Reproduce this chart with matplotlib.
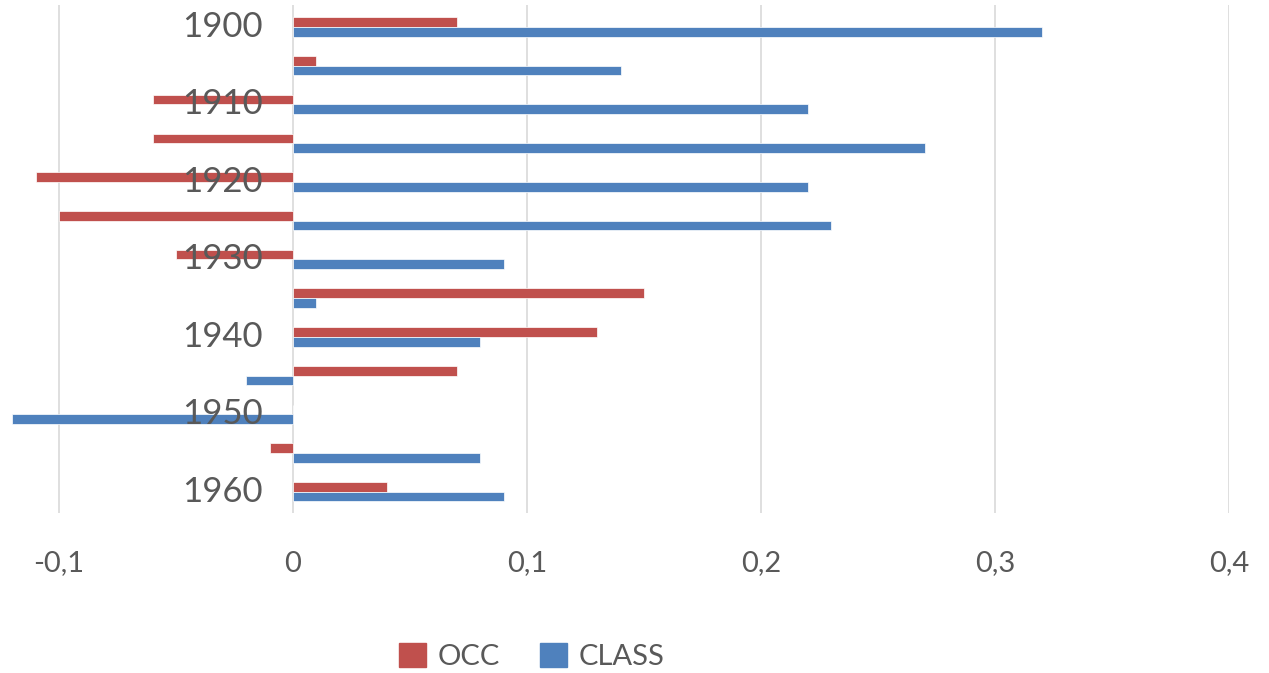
import numpy as np
import matplotlib.pyplot as plt
from matplotlib.ticker import FuncFormatter
from matplotlib.patches import Patch

# Data
years = [1900, 1905, 1910, 1915, 1920, 1925, 1930, 1935, 1940, 1945, 1950, 1955, 1960]
occ   = [0.07, 0.01, -0.06, -0.06, -0.11, -0.10, -0.05, 0.15, 0.13, 0.07, 0.0, -0.01, 0.04]
klass = [0.32, 0.14, 0.22, 0.27, 0.22, 0.23, 0.09, 0.01, 0.08, -0.02, -0.12, 0.08, 0.09]
xticks = [-0.1, 0.0, 0.1, 0.2, 0.3, 0.4]

OCC_COLOR   = "#C0504D"
CLASS_COLOR = "#4F81BD"
TEXT_COLOR  = "#595959"
GRID_COLOR  = "#D9D9D9"

plt.rcParams["font.family"] = ["Lato", "DejaVu Sans"]

fig = plt.figure(figsize=(12.69, 6.73), dpi=100)
ax = fig.add_axes([0.0059, 0.2377, 0.9626, 0.7549])

y = np.arange(len(years))
h = 0.25
ax.barh(y - h / 2, occ, height=h, color=OCC_COLOR, edgecolor="white", lw=0.5, zorder=2)
ax.barh(y + h / 2, klass, height=h, color=CLASS_COLOR, edgecolor="white", lw=0.5, zorder=2)

ax.set_xlim(-0.122, 0.4)
ax.set_ylim(len(years) - 0.45, -0.57)

ax.set_xticks(xticks)
ax.xaxis.set_major_formatter(FuncFormatter(
    lambda v, p: "0" if abs(v) < 1e-9 else f"{v:g}".replace(".", ",")))
ax.tick_params(axis="x", length=0, pad=27, labelsize=21, labelcolor=TEXT_COLOR)
ax.set_yticks([])
ax.grid(axis="x", color=GRID_COLOR, lw=1.2, zorder=0)
for s in ax.spines.values():
    s.set_visible(False)

# year labels sit just left of zero, drawn over the bars
for i, yr in enumerate(years):
    if yr % 10 == 0:
        ax.text(-0.013, i, str(yr), ha="right", va="center", fontsize=25,
                color=TEXT_COLOR, zorder=5)

handles = [Patch(color=OCC_COLOR, label="OCC"), Patch(color=CLASS_COLOR, label="CLASS")]
fig.legend(handles=handles, loc="center", bbox_to_anchor=(0.419, 0.024),
           ncol=2, frameon=False, fontsize=21, labelcolor=TEXT_COLOR,
           handlelength=0.9, handleheight=0.9, handletextpad=0.4, columnspacing=1.4)

fig.savefig("out.png", dpi=100)
